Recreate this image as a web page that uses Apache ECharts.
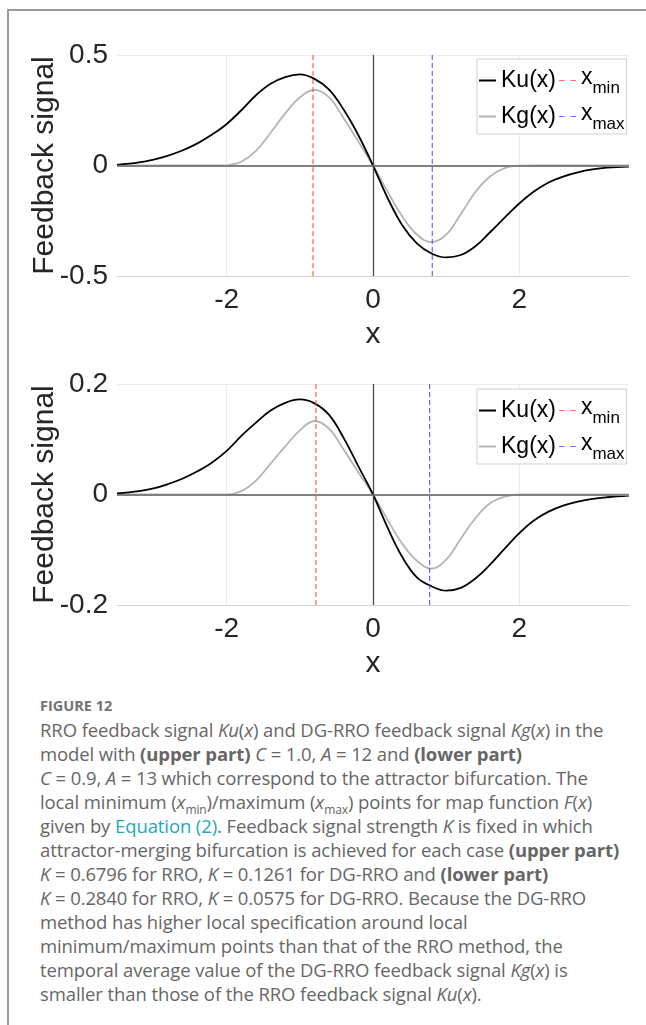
<!DOCTYPE html>
<html><head><meta charset="utf-8">
<script src="https://cdn.jsdelivr.net/npm/echarts@6/dist/echarts.min.js"></script>
<style>
html,body{margin:0;padding:0;background:#fff;width:646px;height:1025px;overflow:hidden;}
#frame{position:absolute;left:7px;top:9px;width:650px;height:1030px;border-left:2px solid #9a9a9a;border-top:2px solid #9a9a9a;}
#chart{position:absolute;left:0;top:0;width:646px;height:680px;}
#cap{position:absolute;left:40px;top:694px;width:606px;font-family:'Open Sans',sans-serif;font-size:18.5px;line-height:24px;color:#666;letter-spacing:-0.1px;}
#cap div{white-space:nowrap;}
#cap .fig{font-weight:bold;font-size:14.5px;color:#737373;letter-spacing:0;}
#cap .lk{color:#1fa8bb;}
#cap sub{font-size:12px;line-height:0;}
</style></head>
<body>
<div id="frame"></div>
<div id="chart"></div>
<div id="cap">
<div class="fig">FIGURE 12</div>
<div>RRO feedback signal <i>Ku</i>(<i>x</i>) and DG-RRO feedback signal <i>Kg</i>(<i>x</i>) in the</div>
<div>model with <b>(upper part)</b> <i>C</i> = 1.0, <i>A</i> = 12 and <b>(lower part)</b></div>
<div><i>C</i> = 0.9, <i>A</i> = 13 which correspond to the attractor bifurcation. The</div>
<div>local minimum (<i>x</i><sub>min</sub>)/maximum (<i>x</i><sub>max</sub>) points for map function <i>F</i>(<i>x</i>)</div>
<div>given by <span class="lk">Equation (2)</span>. Feedback signal strength <i>K</i> is fixed in which</div>
<div>attractor-merging bifurcation is achieved for each case <b>(upper part)</b></div>
<div><i>K</i> = 0.6796 for RRO, <i>K</i> = 0.1261 for DG-RRO and <b>(lower part)</b></div>
<div><i>K</i> = 0.2840 for RRO, <i>K</i> = 0.0575 for DG-RRO. Because the DG-RRO</div>
<div>method has higher local specification around local</div>
<div>minimum/maximum points than that of the RRO method, the</div>
<div>temporal average value of the DG-RRO feedback signal <i>Kg</i>(<i>x</i>) is</div>
<div>smaller than those of the RRO feedback signal <i>Ku</i>(<i>x</i>).</div>
</div>
<script>
// ---- data ----
const xs = [-3.5,-3.2,-3.0,-2.8,-2.6,-2.4,-2.2,-2.0,-1.8,-1.6,-1.4,-1.2,-1.0,-0.8,-0.6,-0.4,-0.2,0,
            0.2,0.4,0.6,0.8,1.0,1.2,1.4,1.6,1.8,2.0,2.2,2.4,2.6,2.8,3.0,3.2,3.5];
const kuUpper = [0.003,0.014,0.027,0.045,0.069,0.100,0.140,0.188,0.250,0.318,0.370,0.400,0.412,0.392,0.343,0.252,0.137,0,
                 -0.147,-0.270,-0.352,-0.398,-0.416,-0.405,-0.365,-0.302,-0.236,-0.172,-0.118,-0.077,-0.050,-0.031,-0.018,-0.010,-0.005];
const kgUpper = [0,0,0,0,0,0,0,0.001,0.017,0.066,0.148,0.236,0.308,0.342,0.308,0.213,0.108,0,
                 -0.118,-0.230,-0.312,-0.347,-0.313,-0.220,-0.120,-0.050,-0.012,-0.001,0,0,0,0,0,0,0];
const kuLower = [0.002,0.006,0.011,0.019,0.029,0.042,0.058,0.079,0.106,0.130,0.152,0.166,0.172,0.165,0.144,0.102,0.051,0,
                 -0.060,-0.113,-0.150,-0.166,-0.174,-0.169,-0.152,-0.127,-0.098,-0.070,-0.047,-0.031,-0.020,-0.013,-0.008,-0.005,-0.002];
const kgLower = [0,0,0,0,0,0,0,0,0.006,0.025,0.056,0.087,0.116,0.133,0.119,0.081,0.040,0,
                 -0.046,-0.089,-0.120,-0.134,-0.118,-0.080,-0.043,-0.016,-0.004,0,0,0,0,0,0,0,0];
const xMarksUpper = [-0.82, 0.81];   // x_min, x_max
const xMarksLower = [-0.78, 0.775];
const xRange = [-3.5, 3.5];
const xTicks = [-2, 0, 2];
const yRangeUpper = [-0.5, 0.5], yStepUpper = 0.5;
const yRangeLower = [-0.2, 0.2], yStepLower = 0.2;
const refLines = [0];
const names = ['Ku(x)', 'x_min', 'Kg(x)', 'x_max'];

const FONT = 'Liberation Sans';
const TXT = '#262626';
const C_KU = '#000', C_KG = '#b4b4b4', C_MIN = '#ff3b3b', C_MAX = '#4646ff';
const pairs = (ys) => xs.map((x, i) => [x, ys[i]]);
const vline = (x, yr) => [[x, yr[0]], [x, yr[1]]];

function xAxisFor(gi) {
  return {
    gridIndex: gi, type: 'value', min: xRange[0], max: xRange[1],
    name: 'x', nameLocation: 'middle', nameGap: 44,
    nameTextStyle: {fontFamily: FONT, fontSize: 30, color: TXT},
    axisLine: {show: true, onZero: false, lineStyle: {color: '#d4d4d4', width: 1}},
    axisTick: {show: false, customValues: xTicks},
    axisLabel: {customValues: xTicks, fontFamily: FONT, fontSize: 28, color: TXT, margin: 10},
    splitLine: {show: true, lineStyle: {color: '#ececec', width: 1}}
  };
}
function yAxisFor(gi, yr, step) {
  return {
    gridIndex: gi, type: 'value', min: yr[0], max: yr[1], interval: step,
    name: 'Feedback signal', nameLocation: 'middle', nameGap: 57, nameMoveOverlap: false,
    nameTextStyle: {fontFamily: FONT, fontSize: 30, color: TXT},
    axisLine: {show: true, lineStyle: {color: '#d4d4d4', width: 1}},
    axisTick: {show: false},
    axisLabel: {fontFamily: FONT, fontSize: 28, color: TXT, margin: 9},
    splitLine: {show: true, lineStyle: {color: '#ececec', width: 1}}
  };
}
function seriesFor(gi, ku, kg, marks, yr) {
  return [
    {name: names[0], type: 'line', xAxisIndex: gi, yAxisIndex: gi, data: pairs(ku),
     smooth: 0.4, symbol: 'none', z: 4, lineStyle: {color: C_KU, width: 1.8}, itemStyle: {color: C_KU},
     markLine: {silent: true, symbol: 'none', label: {show: false}, animation: false,
       data: [
         {yAxis: refLines[0], lineStyle: {color: '#808080', width: 2, type: 'solid'}},
         {xAxis: refLines[0], lineStyle: {color: '#4a4a4a', width: 1.3, type: 'solid'}}
       ]}},
    {name: names[2], type: 'line', xAxisIndex: gi, yAxisIndex: gi, data: pairs(kg),
     smooth: 0.4, symbol: 'none', z: 3, lineStyle: {color: C_KG, width: 1.8}, itemStyle: {color: C_KG}},
    {name: names[1], type: 'line', xAxisIndex: gi, yAxisIndex: gi, data: vline(marks[0], yr),
     symbol: 'none', z: 5, lineStyle: {color: C_MIN, width: 1, type: [5, 3]}, itemStyle: {color: C_MIN}},
    {name: names[3], type: 'line', xAxisIndex: gi, yAxisIndex: gi, data: vline(marks[1], yr),
     symbol: 'none', z: 5, lineStyle: {color: C_MAX, width: 1, type: [5, 3]}, itemStyle: {color: C_MAX}}
  ];
}
const dashIcon = 'path://M0 0H5V1H0Z M10 0H15V1H10Z';
function legendFor(top) {
  return {
    data: [
      {name: names[0], icon: 'rect', itemStyle: {color: C_KU}},
      {name: names[1], icon: dashIcon, itemStyle: {color: '#ff6a6a'}},
      {name: names[2], icon: 'rect', itemStyle: {color: C_KG}},
      {name: names[3], icon: dashIcon, itemStyle: {color: '#7070ff'}}
    ],
    left: 477, top: top, width: 165, orient: 'horizontal',
    itemWidth: 17, itemHeight: 2, itemGap: 3, padding: [5, 2, 1, 2],
    backgroundColor: '#fff', borderColor: '#cfcfcf', borderWidth: 1, borderRadius: 0,
    selectedMode: false,
    formatter: (n) => n === 'x_min' ? '{x|x}{s|min}' : n === 'x_max' ? '{x|x}{s|max}' : '{t|' + n + '}',
    textStyle: {
      fontFamily: FONT, color: '#000',
      rich: {
        t: {fontFamily: FONT, fontSize: 23, color: '#000', lineHeight: 34},
        x: {fontFamily: FONT, fontSize: 23, color: '#000', lineHeight: 23, padding: [0, 0, 6, 0]},
        s: {fontFamily: FONT, fontSize: 17, color: '#000', lineHeight: 17, padding: [16, 0, 0, 0]}
      }
    }
  };
}

const chart = echarts.init(document.getElementById('chart'), null, {renderer: 'canvas'});
chart.setOption({
  animation: false,
  backgroundColor: 'transparent',
  grid: [
    {left: 117, width: 512, top: 55, height: 221},
    {left: 117, width: 512, top: 384, height: 221}
  ],
  xAxis: [xAxisFor(0), xAxisFor(1)],
  yAxis: [yAxisFor(0, yRangeUpper, yStepUpper), yAxisFor(1, yRangeLower, yStepLower)],
  legend: [legendFor(59), legendFor(389)],
  series: [
    ...seriesFor(0, kuUpper, kgUpper, xMarksUpper, yRangeUpper),
    ...seriesFor(1, kuLower, kgLower, xMarksLower, yRangeLower)
  ]
});
</script>
</body></html>
